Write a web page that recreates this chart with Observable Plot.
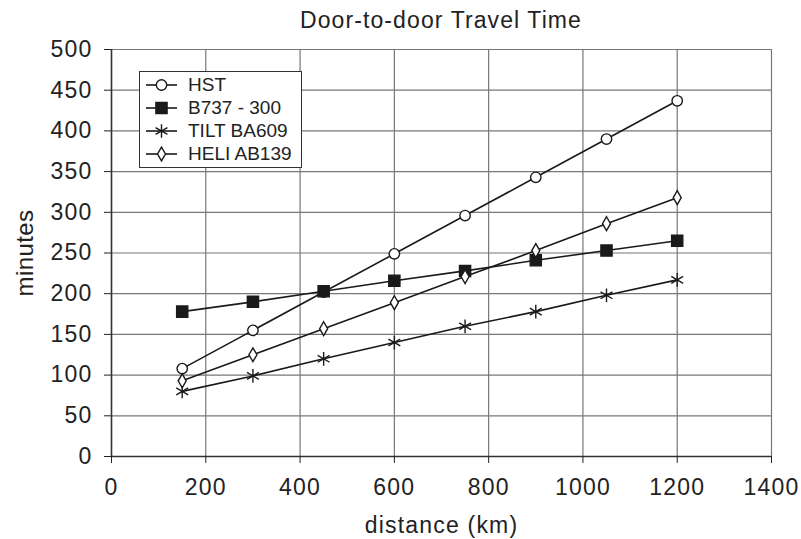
<!DOCTYPE html>
<html><head><meta charset="utf-8">
<script src="https://cdn.jsdelivr.net/npm/d3@7"></script>
<script src="https://cdn.jsdelivr.net/npm/@observablehq/plot@0.6"></script>
<style>
body{margin:0;background:#fff;font-family:"Liberation Sans",Arial,sans-serif;}
#wrap{position:relative;width:801px;height:539px;}
#title{position:absolute;left:111px;top:0;width:660px;height:40px;line-height:40px;font-size:23px;letter-spacing:1.1px;color:#222;text-align:center;white-space:nowrap;}
#chart{position:absolute;left:0;top:36px;}
#legend{position:absolute;left:139px;top:71px;width:163px;height:97px;border:1.3px solid #333;background:#fff;box-sizing:border-box;padding-top:1.5px;}
.row{height:23px;display:flex;align-items:center;font-size:19px;color:#222;white-space:nowrap;}
.row svg{margin-left:5px;margin-right:10px;}
svg text{font-family:"Liberation Sans",Arial,sans-serif;}
</style></head>
<body><div id="wrap"><div id="title">Door-to-door Travel Time</div><div id="chart"></div><div id="legend"></div></div>
<script>
const distances = [150, 300, 450, 600, 750, 900, 1050, 1200];
const seriesNames = ["HST", "B737 - 300", "TILT BA609", "HELI AB139"];
const hst  = [108, 155, 202, 249, 296, 343, 390, 437];
const b737 = [178, 190, 203, 216, 228, 241, 253, 265];
const tilt = [80, 99, 120, 140, 160, 178, 198, 217];
const heli = [93, 125, 157, 189, 221, 253, 286, 318];
const xTicks = [0, 200, 400, 600, 800, 1000, 1200, 1400];
const yTicks = [0, 50, 100, 150, 200, 250, 300, 350, 400, 450, 500];

const symbols = ["circle", "square", "asterisk", "diamond"];
const fills = ["white", "#1a1a1a", "none", "white"];
const radii = [5.2, 6.3, 6.5, 4.2];
const allSeries = [hst, b737, tilt, heli];

const data = [];
allSeries.forEach((vals, si) => vals.forEach((v, i) => data.push({series: seriesNames[si], x: distances[i], y: v})));

const marks = [
  Plot.gridY(yTicks, {stroke: "#777", strokeOpacity: 1, strokeWidth: 1.2}),
  Plot.gridX(xTicks, {stroke: "#777", strokeOpacity: 1, strokeWidth: 1.2}),
  Plot.ruleY([0], {stroke: "#333", strokeWidth: 1.5}),
  Plot.ruleX([0], {stroke: "#333", strokeWidth: 1.5}),
  Plot.axisX({ticks: xTicks, tickFormat: d => String(d), tickSize: 7, tickPadding: 15, label: "distance (km)", labelAnchor: "center", labelArrow: "none", labelOffset: 76, color: "#222"}),
  Plot.axisY({ticks: yTicks, tickFormat: d => String(d), tickSize: 7, tickPadding: 12, label: "minutes", labelAnchor: "center", labelArrow: "none", labelOffset: 96, color: "#222"}),
  Plot.line(data, {x: "x", y: "y", z: "series", stroke: "#1a1a1a", strokeWidth: 1.6})
];
seriesNames.forEach((name, si) => {
  marks.push(Plot.dot(data.filter(d => d.series === name), {
    x: "x", y: "y", symbol: () => symbols[si], r: radii[si],
    fill: fills[si], stroke: "#1a1a1a", strokeWidth: 1.4
  }));
});

const chart = Plot.plot({
  width: 801, height: 503,
  marginLeft: 111, marginRight: 30, marginTop: 13, marginBottom: 83,
  x: {domain: [0, 1400]},
  y: {domain: [0, 500]},
  style: {fontFamily: "Liberation Sans, Arial, sans-serif", fontSize: "23px", letterSpacing: "1.2px", background: "white", color: "#222", overflow: "visible"},
  marks
});
d3.select(chart).selectAll('[aria-label="x-axis label"]').attr("font-size", "23px");
d3.select(chart).selectAll('[aria-label="y-axis label"]').attr("font-size", "24px").attr("letter-spacing", "0.4px");
document.getElementById("chart").appendChild(chart);

// legend
const legend = d3.select("#legend");
const symMap = {circle: d3.symbolCircle, square: d3.symbolSquare, asterisk: d3.symbolAsterisk, diamond: d3.symbolDiamond};
seriesNames.forEach((name, si) => {
  const row = legend.append("div").attr("class", "row");
  const svg = row.append("svg").attr("width", 33).attr("height", 16);
  svg.append("line").attr("x1", 1).attr("x2", 32).attr("y1", 8).attr("y2", 8).attr("stroke", "#1a1a1a").attr("stroke-width", 1.6);
  svg.append("path").attr("transform", "translate(16.5,8)")
    .attr("d", d3.symbol(symMap[symbols[si]], Math.PI * radii[si] * radii[si])())
    .attr("fill", fills[si]).attr("stroke", "#1a1a1a").attr("stroke-width", 1.4);
  row.append("span").text(name);
});
</script></body></html>
